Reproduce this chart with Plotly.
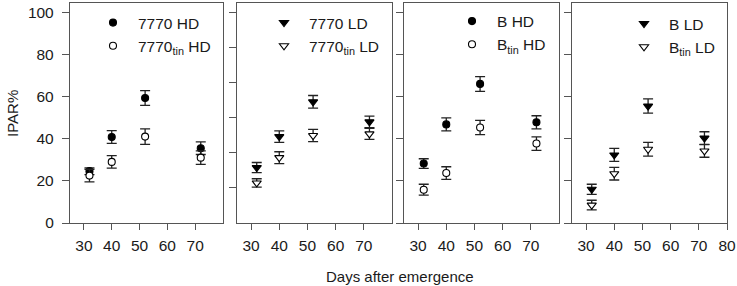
import plotly.graph_objects as go

# ---- data ----
days = [32, 40, 52, 72]

hd7770 = [24.6, 40.8, 59.3, 35.5]
hd7770_err = [1.6, 3.0, 3.5, 3.0]
hd7770tin = [22.5, 29.0, 41.0, 31.0]
hd7770tin_err = [3.0, 3.0, 3.7, 3.2]

ld7770 = [26.3, 41.0, 57.5, 48.0]
ld7770_err = [2.4, 2.7, 3.0, 2.7]
ld7770tin = [19.0, 31.0, 41.5, 42.3]
ld7770tin_err = [2.0, 2.8, 2.9, 2.6]

hdB = [28.2, 46.8, 66.0, 47.8]
hdB_err = [2.3, 3.1, 3.5, 3.1]
hdBtin = [15.8, 23.7, 45.3, 37.7]
hdBtin_err = [2.6, 3.0, 3.4, 3.2]

ldB = [16.0, 32.3, 55.5, 40.3]
ldB_err = [2.4, 3.1, 3.4, 3.0]
ldBtin = [8.5, 23.4, 35.0, 34.2]
ldBtin_err = [2.3, 3.0, 3.3, 3.0]

xticks_123 = [30, 40, 50, 60, 70]
xticks_4 = [30, 40, 50, 60, 70, 80]
yticks = [0, 20, 40, 60, 80, 100]
yticks_panel2 = [100 / 6 * k for k in range(1, 7)]

W, H = 737, 286
FONT = "Liberation Sans, Arial, sans-serif"
LINE = "#555555"
TXT = "#1a1a1a"

panels_px = [(70, 223), (237, 392), (404, 559), (572, 727)]
ytop, ybot = 3, 223

fig = go.Figure()

series = [
    (1, "7770 HD", hd7770, hd7770_err, "circle", "black"),
    (1, "7770<sub>tin</sub> HD", hd7770tin, hd7770tin_err, "circle", "white"),
    (2, "7770 LD", ld7770, ld7770_err, "triangle-down", "black"),
    (2, "7770<sub>tin</sub> LD", ld7770tin, ld7770tin_err, "triangle-down", "white"),
    (3, "B HD", hdB, hdB_err, "circle", "black"),
    (3, "B<sub>tin</sub> HD", hdBtin, hdBtin_err, "circle", "white"),
    (4, "B LD", ldB, ldB_err, "triangle-down", "black"),
    (4, "B<sub>tin</sub> LD", ldBtin, ldBtin_err, "triangle-down", "white"),
]

for p, name, vals, errs, sym, col in series:
    sfx = "" if p == 1 else str(p)
    fig.add_trace(go.Scatter(
        x=days, y=vals, name=name, mode="markers",
        xaxis="x" + sfx, yaxis="y" + sfx,
        legend="legend" + sfx,
        marker=dict(symbol=sym, size=7 if sym == "circle" else 8, color=col,
                    line=dict(color="black", width=1.1)),
        error_y=dict(type="data", array=errs, visible=True, color="#222222",
                     thickness=1.3, width=5),
    ))

layout = dict(
    width=W, height=H,
    margin=dict(l=0, r=0, t=0, b=0, autoexpand=False),
    paper_bgcolor="white", plot_bgcolor="white",
    font=dict(family=FONT, size=15.5, color=TXT),
    showlegend=True,
)

legend_px = [(110, 22), (281, 22), (469, 20.5), (641, 23)]

for i, (l, r) in enumerate(panels_px):
    sfx = "" if i == 0 else str(i + 1)
    xa = dict(
        domain=[l / W, r / W], range=[25, 80],
        tickvals=xticks_4 if i == 3 else xticks_123,
        ticks="outside", ticklen=6, tickcolor=LINE, tickwidth=1.2,
        showline=True, linecolor=LINE, linewidth=1.3, mirror=True,
        showgrid=False, zeroline=False, anchor="y" + sfx,
        tickfont=dict(size=15.5, color=TXT), automargin=False,
        ticklabelstandoff=2,
    )
    ya = dict(
        domain=[1 - ybot / H, 1 - ytop / H], range=[0, 104.4],
        tickvals=yticks_panel2 if i == 1 else yticks,
        ticks="outside", ticklen=7, tickcolor=LINE, tickwidth=1.2,
        showline=True, linecolor=LINE, linewidth=1.3, mirror=True,
        showgrid=False, zeroline=False, anchor="x" + sfx,
        showticklabels=(i == 0),
        tickfont=dict(size=15.5, color=TXT), automargin=False,
        ticklabelstandoff=5,
    )
    layout["xaxis" + sfx] = xa
    layout["yaxis" + sfx] = ya
    mx, my = legend_px[i]
    layout["legend" + sfx] = dict(
        x=(mx - 22) / W, y=1 - (my - 16) / H, xanchor="left", yanchor="top",
        bgcolor="rgba(0,0,0,0)", font=dict(size=15.5, color=TXT),
        itemwidth=40, tracegroupgap=0,
    )

fig.update_layout(**layout)

fig.add_annotation(
    text="Days after emergence", xref="paper", yref="paper",
    x=400 / W, y=1 - 276 / H, showarrow=False,
    font=dict(size=15, color=TXT), xanchor="center", yanchor="middle",
)
fig.add_annotation(
    text="IPAR%", xref="paper", yref="paper",
    x=12 / W, y=1 - 113 / H, showarrow=False, textangle=-90,
    font=dict(size=15, color=TXT), xanchor="center", yanchor="middle",
)

fig.write_html("out.html", config={"displayModeBar": False},
               post_script="document.body.style.margin='0';")
